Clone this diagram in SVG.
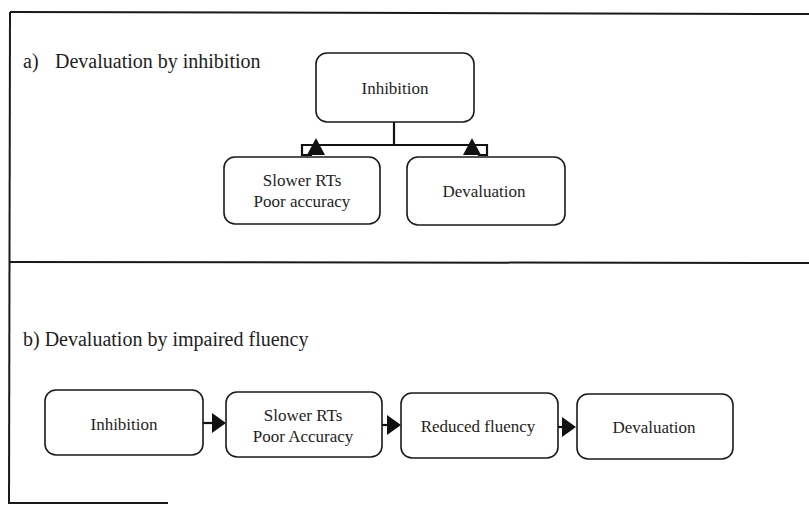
<svg xmlns="http://www.w3.org/2000/svg" width="809" height="505" viewBox="0 0 809 505">
  <style>
    .frame { fill: none; stroke: #1a1a1a; stroke-width: 2; }
    .box { fill: #ffffff; stroke: #1a1a1a; stroke-width: 1.6; }
    .link { fill: none; stroke: #111111; stroke-width: 2.2; }
    .head { fill: #111111; stroke: none; }
    .title { font-family: "Liberation Serif", "Times New Roman", serif; font-size: 20px; fill: #1e1e1e; }
    .label { font-family: "Liberation Serif", "Times New Roman", serif; font-size: 17px; fill: #1e1e1e; text-anchor: middle; }
  </style>
  <defs>
    <marker id="arrow" markerUnits="userSpaceOnUse" markerWidth="15" markerHeight="21" refX="10" refY="10" orient="auto">
      <path class="head" d="M0,0 L14,10 L0,20 Z"/>
    </marker>
    <path id="tri-up" class="head" d="M-9,17 L0,0 L9,17 Z"/>
  </defs>

  <!-- panel frame -->
  <g id="frame">
    <path class="frame" d="M10,12 L809,14"/>
    <path class="frame" d="M10,12 L9,504"/>
    <path class="frame" d="M9,262 L809,263"/>
    <path class="frame" d="M9,503 L168,503"/>
  </g>

  <!-- panel headings -->
  <g id="heading-a">
    <text class="title" x="23" y="68">a)</text>
    <text class="title" x="55" y="68">Devaluation by inhibition</text>
  </g>
  <g id="heading-b">
    <text class="title" x="23" y="346">b) Devaluation by impaired fluency</text>
  </g>

  <!-- connectors -->
  <g id="connectors">
    <!-- a) branching connector -->
    <path class="link" d="M394,122 V145"/>
    <path class="link" d="M302,156 V145 H487 V156"/>
    <path class="link" d="M302,155 H312 M478,155 H487"/>
    <use href="#tri-up" x="316" y="138"/>
    <use href="#tri-up" x="472" y="138"/>
    <!-- b) chain -->
    <path class="link" d="M203,423 H222" marker-end="url(#arrow)"/>
    <path class="link" d="M382,425 H397" marker-end="url(#arrow)"/>
    <path class="link" d="M558,427 H572" marker-end="url(#arrow)"/>
  </g>

  <!-- a) nodes -->
  <g id="a-inhibition">
    <rect class="box" x="316" y="53" width="158" height="69" rx="11"/>
    <text class="label" x="395" y="94">Inhibition</text>
  </g>
  <g id="a-slower">
    <rect class="box" x="224" y="157" width="156" height="67" rx="11"/>
    <text class="label" x="302" y="186">Slower RTs</text>
    <text class="label" x="302" y="207">Poor accuracy</text>
  </g>
  <g id="a-devaluation">
    <rect class="box" x="407" y="157" width="158" height="68" rx="11"/>
    <text class="label" x="484" y="197">Devaluation</text>
  </g>

  <!-- b) nodes -->
  <g id="b-inhibition">
    <rect class="box" x="45" y="390" width="158" height="65" rx="11"/>
    <text class="label" x="124" y="430">Inhibition</text>
  </g>
  <g id="b-slower">
    <rect class="box" x="226" y="392" width="156" height="65" rx="11"/>
    <text class="label" x="303" y="421">Slower RTs</text>
    <text class="label" x="303" y="442">Poor Accuracy</text>
  </g>
  <g id="b-reduced">
    <rect class="box" x="401" y="393" width="157" height="65" rx="11"/>
    <text class="label" x="478" y="432">Reduced fluency</text>
  </g>
  <g id="b-devaluation">
    <rect class="box" x="577" y="394" width="156" height="65" rx="11"/>
    <text class="label" x="654" y="433">Devaluation</text>
  </g>
</svg>
